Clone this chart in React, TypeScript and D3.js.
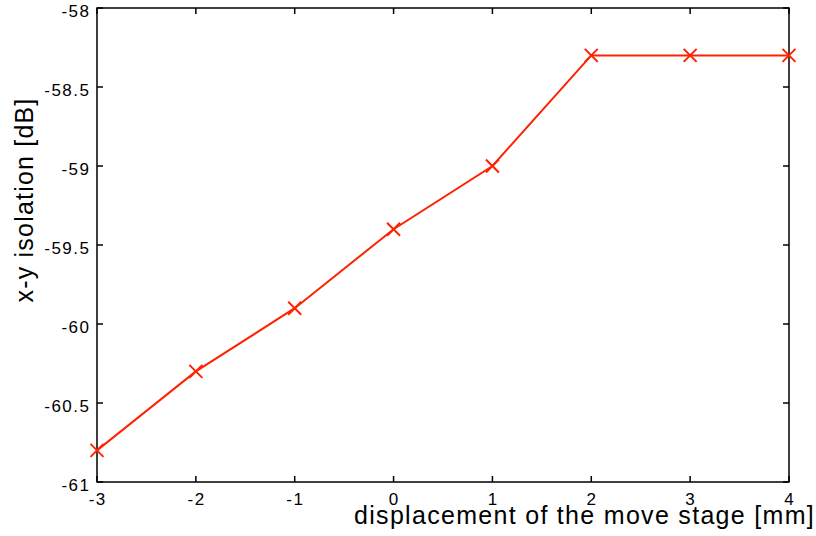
import { useEffect, useRef } from "react";
import * as d3 from "d3";

const displacement = [-3, -2, -1, 0, 1, 2, 3, 4];
const isolation = [-60.8, -60.3, -59.9, -59.4, -59.0, -58.3, -58.3, -58.3];
const xTicks = [-3, -2, -1, 0, 1, 2, 3, 4];
const yTicks = [-61, -60.5, -60, -59.5, -59, -58.5, -58];

export default function App() {
  const svgRef = useRef<SVGSVGElement | null>(null);

  useEffect(() => {
    const svg = d3.select(svgRef.current);
    svg.selectAll("*").remove();

    const width = 816, height = 536;
    const margin = { top: 8, right: 27, bottom: 54, left: 97 };
    const innerW = width - margin.left - margin.right;
    const innerH = height - margin.top - margin.bottom;
    const font = "'Liberation Sans', Arial, Helvetica, sans-serif";
    const red = "#ff2200";

    svg.attr("width", width).attr("height", height);
    const g = svg.append("g").attr("transform", `translate(${margin.left},${margin.top})`);

    const x = d3.scaleLinear().domain([-3, 4]).range([0, innerW]);
    const y = d3.scaleLinear().domain([-61, -58]).range([innerH, 0]);

    // frame
    g.append("rect").attr("width", innerW).attr("height", innerH)
      .attr("fill", "none").attr("stroke", "#000").attr("stroke-width", 1.5);

    const tickLen = 6;
    // ticks on all four sides, pointing inward
    xTicks.forEach(t => {
      g.append("line").attr("x1", x(t)).attr("x2", x(t)).attr("y1", innerH).attr("y2", innerH - tickLen)
        .attr("stroke", "#000").attr("stroke-width", 1.5);
      g.append("line").attr("x1", x(t)).attr("x2", x(t)).attr("y1", 0).attr("y2", tickLen)
        .attr("stroke", "#000").attr("stroke-width", 1.5);
      g.append("text").attr("x", x(t) + 0.7).attr("y", innerH + 23).attr("text-anchor", "middle")
        .style("font-family", font).style("font-size", "17px").style("letter-spacing", "1.5px")
        .text(String(t));
    });
    yTicks.forEach(t => {
      g.append("line").attr("x1", 0).attr("x2", tickLen).attr("y1", y(t)).attr("y2", y(t))
        .attr("stroke", "#000").attr("stroke-width", 1.5);
      g.append("line").attr("x1", innerW).attr("x2", innerW - tickLen).attr("y1", y(t)).attr("y2", y(t))
        .attr("stroke", "#000").attr("stroke-width", 1.5);
      g.append("text").attr("x", -6.5).attr("y", y(t) + 9).attr("text-anchor", "end")
        .style("font-family", font).style("font-size", "17px").style("letter-spacing", "1.5px")
        .text(String(t));
    });

    const data = displacement.map((d, i) => ({ x: d, y: isolation[i] }));
    const line = d3.line<{ x: number; y: number }>().x(d => x(d.x)).y(d => y(d.y));
    g.append("path").datum(data).attr("fill", "none").attr("stroke", red)
      .attr("stroke-width", 2).attr("d", line);

    const s = 6.5;
    g.selectAll(".mark").data(data).enter().append("path")
      .attr("d", d => {
        const cx = x(d.x), cy = y(d.y);
        return `M${cx - s},${cy - s}L${cx + s},${cy + s}M${cx - s},${cy + s}L${cx + s},${cy - s}`;
      })
      .attr("stroke", red).attr("stroke-width", 2).attr("fill", "none");

    svg.append("text").attr("x", 815).attr("y", 524).attr("text-anchor", "end")
      .style("font-family", font).style("font-size", "25px").style("letter-spacing", "1.3px")
      .text("displacement of the move stage [mm]");

    svg.append("text").attr("transform", `translate(33,200) rotate(-90)`)
      .attr("text-anchor", "middle")
      .style("font-family", font).style("font-size", "25px").style("letter-spacing", "1.2px")
      .text("x-y isolation [dB]");
  }, []);

  return <svg ref={svgRef} style={{ position: "absolute", left: 0, top: 0, background: "#fff" }} />;
}
